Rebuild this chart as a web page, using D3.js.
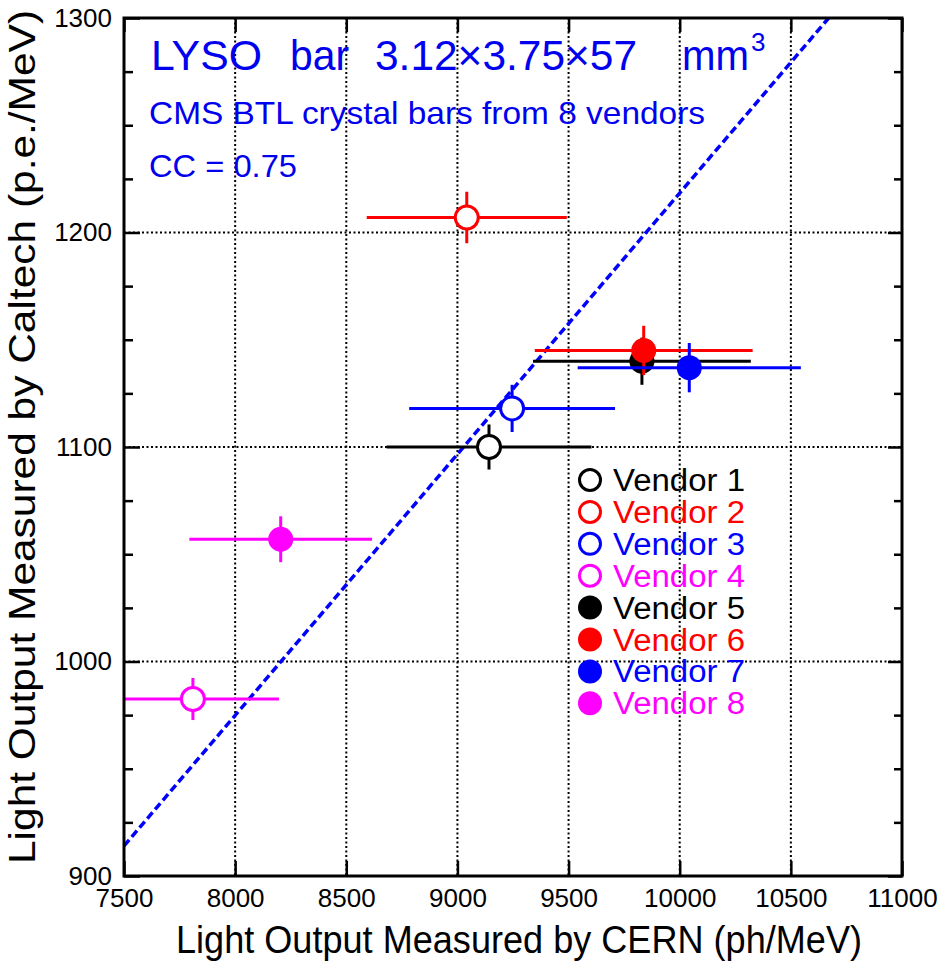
<!DOCTYPE html>
<html>
<head>
<meta charset="utf-8">
<script src="https://cdn.jsdelivr.net/npm/d3@7"></script>
<style>
body { margin: 0; background: #fff; }
text { font-family: "Liberation Sans", Arial, Helvetica, sans-serif; }
</style>
</head>
<body>
<div id="chart"></div>
<script>
// DATA
const vendors = ["Vendor 1", "Vendor 2", "Vendor 3", "Vendor 4", "Vendor 5", "Vendor 6", "Vendor 7", "Vendor 8"];
const vendorColors = ["#000000", "#ff0000", "#0000ff", "#ff00ff", "#000000", "#ff0000", "#0000ff", "#ff00ff"];
const vendorFilled = [false, false, false, false, true, true, true, true];
const cernLO = [9142, 9042, 9246, 7810, 9830, 9838, 10043, 8205];
const cernErr = [461, 450, 463, 387, 490, 490, 502, 411];
const caltechLO = [1100, 1207, 1118, 982.5, 1140, 1145, 1137, 1057];
const caltechErr = [10.5, 12, 11, 9.8, 11, 11.5, 11.5, 10.7];
const fitX = [7500, 10670];
const fitY = [914, 1300];
const xTicks = [7500, 8000, 8500, 9000, 9500, 10000, 10500, 11000];
const yTicks = [900, 1000, 1100, 1200, 1300];
const yMinor = [925, 950, 975, 1025, 1050, 1075, 1125, 1150, 1175, 1225, 1250, 1275];
const xGrid = [8000, 8500, 9000, 9500, 10000, 10500];
const yGrid = [1000, 1100, 1200];

const W = 942, H = 965;
const margin = { top: 18, right: 40, bottom: 89, left: 124 };
const width = W - margin.left - margin.right;
const height = H - margin.top - margin.bottom;

const svg = d3.select("#chart").append("svg")
    .attr("width", W)
    .attr("height", H);

const g = svg.append("g")
    .attr("transform", "translate(" + margin.left + "," + margin.top + ")");

// SCALES
const x = d3.scaleLinear().domain([7500, 11000]).range([0, width]);
const y = d3.scaleLinear().domain([900, 1300]).range([height, 0]);

g.append("clipPath").attr("id", "plotclip")
    .append("rect").attr("width", width).attr("height", height);

// GRID
g.selectAll(".vgrid").data(xGrid).enter().append("line")
    .attr("x1", d => x(d)).attr("x2", d => x(d))
    .attr("y1", 0).attr("y2", height)
    .style("stroke", "#000").style("stroke-width", 2).style("stroke-dasharray", "2,2.5");

g.selectAll(".hgrid").data(yGrid).enter().append("line")
    .attr("x1", 0).attr("x2", width)
    .attr("y1", d => y(d)).attr("y2", d => y(d))
    .style("stroke", "#000").style("stroke-width", 2).style("stroke-dasharray", "2,2.5");

// AXES
const axisStyle = (sel) => {
    sel.select(".domain").remove();
    sel.selectAll(".tick line").style("stroke", "#000").style("stroke-width", 2.5);
    sel.selectAll(".tick text").style("font-size", "26px").style("fill", "#000");
};

g.append("g").attr("transform", "translate(0," + height + ")")
    .call(d3.axisBottom(x).tickValues(xTicks).tickSize(-15).tickPadding(13).tickFormat(d3.format("d")))
    .call(axisStyle);

g.append("g")
    .call(d3.axisTop(x).tickValues(xTicks).tickSize(-14).tickFormat(""))
    .call(axisStyle);

g.append("g")
    .call(d3.axisLeft(y).tickValues(yTicks).tickSize(-16).tickPadding(12).tickFormat(d3.format("d")))
    .call(axisStyle);

g.append("g")
    .call(d3.axisLeft(y).tickValues(yMinor).tickSize(-9).tickFormat(""))
    .call(axisStyle);

g.append("g").attr("transform", "translate(" + width + ",0)")
    .call(d3.axisRight(y).tickValues(yTicks).tickSize(-14).tickFormat(""))
    .call(axisStyle);

g.append("g").attr("transform", "translate(" + width + ",0)")
    .call(d3.axisRight(y).tickValues(yMinor).tickSize(-8).tickFormat(""))
    .call(axisStyle);

// FIT LINE
const line = d3.line().x(d => x(d[0])).y(d => y(d[1]));
g.append("path")
    .datum(fitX.map((v, i) => [v, fitY[i]]))
    .attr("d", line)
    .attr("clip-path", "url(#plotclip)")
    .style("fill", "none").style("stroke", "#0000ff")
    .style("stroke-width", 3.5).style("stroke-dasharray", "8,4");

// ERROR BARS + MARKERS
const pts = vendors.map((v, i) => ({
    name: v, cx: cernLO[i], ex: cernErr[i], cy: caltechLO[i], ey: caltechErr[i],
    color: vendorColors[i], filled: vendorFilled[i]
}));

const pg = g.append("g").attr("clip-path", "url(#plotclip)");
const pt = pg.selectAll(".pt").data(pts).enter().append("g");

pt.append("line")
    .attr("x1", d => x(d.cx - d.ex)).attr("x2", d => x(d.cx + d.ex))
    .attr("y1", d => y(d.cy)).attr("y2", d => y(d.cy))
    .style("stroke", d => d.color).style("stroke-width", 3);

pt.append("line")
    .attr("x1", d => x(d.cx)).attr("x2", d => x(d.cx))
    .attr("y1", d => y(d.cy - d.ey)).attr("y2", d => y(d.cy + d.ey))
    .style("stroke", d => d.color).style("stroke-width", 3);

pt.append("circle")
    .attr("cx", d => x(d.cx)).attr("cy", d => y(d.cy))
    .attr("r", d => d.filled ? 12.5 : 11.5)
    .style("fill", d => d.filled ? d.color : "#fff")
    .style("stroke", d => d.filled ? "none" : d.color)
    .style("stroke-width", 3);

// FRAME
g.append("rect").attr("width", width).attr("height", height)
    .style("fill", "none").style("stroke", "#000").style("stroke-width", 3);

// LEGEND
const legend = g.append("g").attr("transform", "translate(" + (590 - margin.left) + "," + (480 - margin.top) + ")");
const li = legend.selectAll(".li").data(pts).enter().append("g")
    .attr("transform", (d, i) => "translate(0," + (i * 31.9) + ")");
li.append("circle")
    .attr("r", d => d.filled ? 12 : 10.5)
    .style("fill", d => d.filled ? d.color : "#fff")
    .style("stroke", d => d.filled ? "none" : d.color)
    .style("stroke-width", 3);
li.append("text")
    .attr("x", 23).attr("y", 11)
    .style("font-size", "31px").style("fill", d => d.color)
    .attr("textLength", 132).attr("lengthAdjust", "spacingAndGlyphs")
    .text(d => d.name);

// HEADER TEXT
const blue = "#0000ee";
const hdr = svg.append("g").style("fill", blue);
hdr.append("text").attr("x", 151).attr("y", 70).style("font-size", "42px")
    .attr("textLength", 111).attr("lengthAdjust", "spacingAndGlyphs").text("LYSO");
hdr.append("text").attr("x", 290).attr("y", 70).style("font-size", "42px")
    .attr("textLength", 59).attr("lengthAdjust", "spacingAndGlyphs").text("bar");
hdr.append("text").attr("x", 375).attr("y", 70).style("font-size", "42px")
    .attr("textLength", 262).attr("lengthAdjust", "spacingAndGlyphs").text("3.12\u00d73.75\u00d757");
hdr.append("text").attr("x", 682).attr("y", 70).style("font-size", "42px")
    .attr("textLength", 67).attr("lengthAdjust", "spacingAndGlyphs").text("mm");
hdr.append("text").attr("x", 751).attr("y", 51).style("font-size", "26px").text("3");
hdr.append("text").attr("x", 149).attr("y", 124).style("font-size", "32px")
    .attr("textLength", 556).attr("lengthAdjust", "spacingAndGlyphs")
    .text("CMS BTL crystal bars from 8 vendors");
hdr.append("text").attr("x", 149).attr("y", 177).style("font-size", "32px")
    .attr("textLength", 148).attr("lengthAdjust", "spacingAndGlyphs")
    .text("CC = 0.75");

// AXES LABELS
svg.append("text")
    .attr("x", 519).attr("y", 953)
    .style("font-size", "38px").style("text-anchor", "middle")
    .attr("textLength", 686).attr("lengthAdjust", "spacingAndGlyphs")
    .text("Light Output Measured by CERN (ph/MeV)");

svg.append("text")
    .attr("transform", "translate(35,437) rotate(-90)")
    .style("font-size", "37px").style("text-anchor", "middle")
    .attr("textLength", 854).attr("lengthAdjust", "spacingAndGlyphs")
    .text("Light Output Measured by Caltech (p.e./MeV)");
</script>
</body>
</html>
